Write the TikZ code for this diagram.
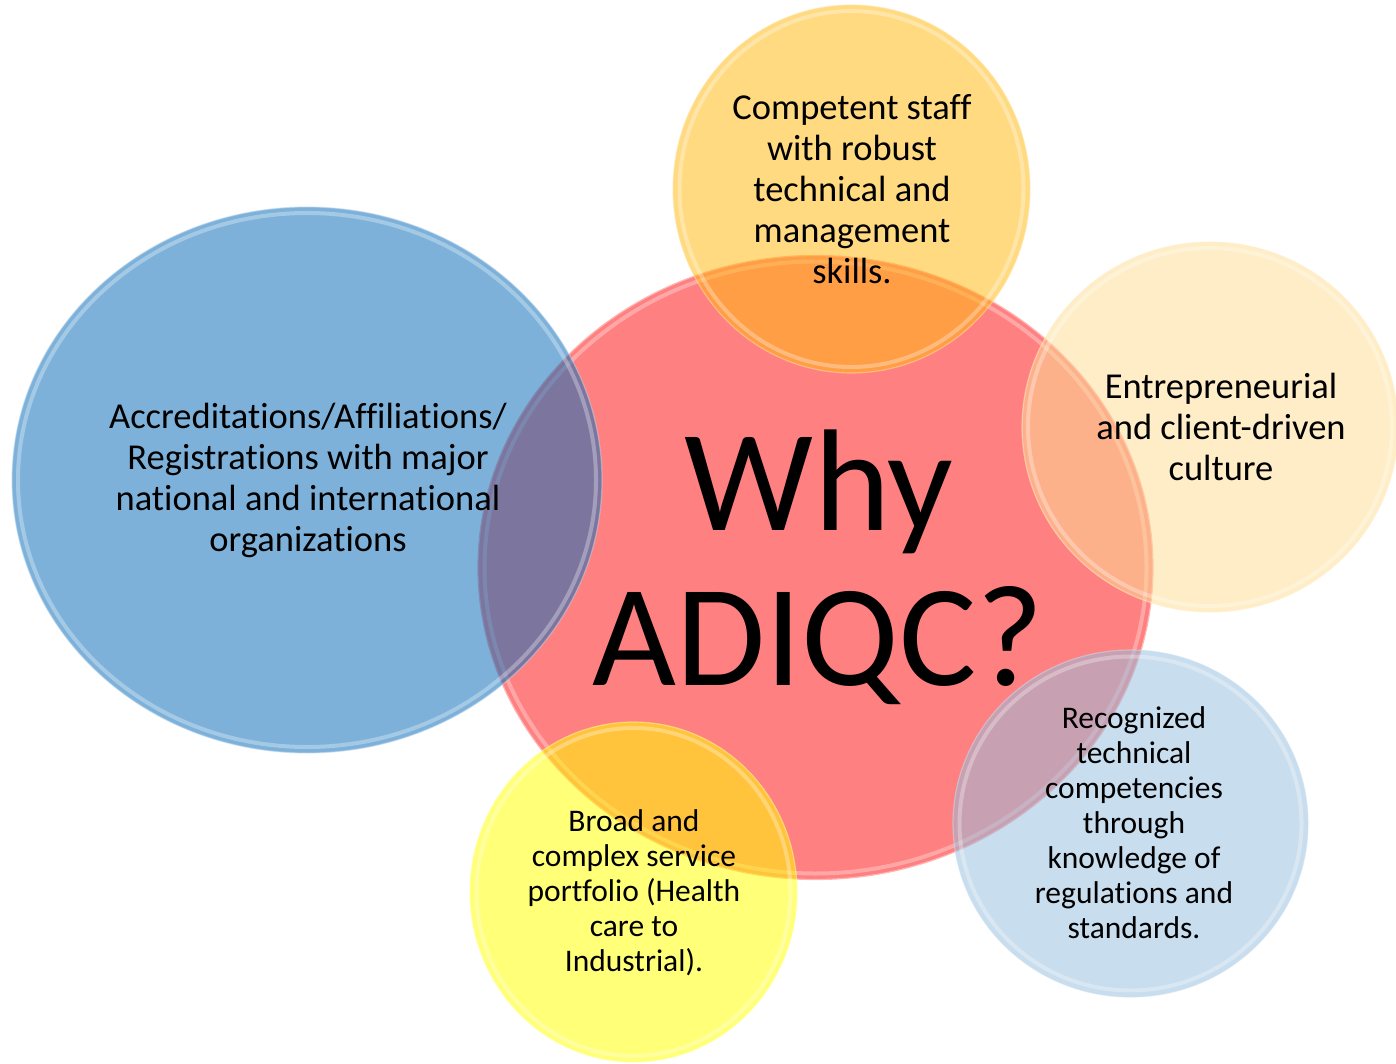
\documentclass[tikz,border=0pt]{standalone}
\usepackage{fontspec}
\setmainfont{Carlito}[RawFeature={-liga}]
\usetikzlibrary{shapes.geometric}
\definecolor{cred}{RGB}{255,128,128}
\definecolor{cblue}{RGB}{9,108,185}
\definecolor{cgold}{RGB}{255,185,17}
\definecolor{ccream}{RGB}{253,221,149}
\definecolor{cpale}{RGB}{151,190,222}
\definecolor{cyel}{RGB}{255,255,0}
\begin{document}
\begin{tikzpicture}[x=1pt,y=-1pt,
  bubble/.style={ellipse, inner sep=0pt, outer sep=0pt, fill opacity=0.53, draw opacity=0.5, line width=1.2pt},
  rim/.style={draw=white, draw opacity=0.3, line width=4pt},
  biglbl/.style={align=center, text=black, font=\fontsize{36.5}{41}\selectfont},
  smalllbl/.style={align=center, text=black, font=\fontsize{31.5}{35}\selectfont},
  titlelbl/.style={anchor=base, text=black, inner sep=0pt, font=\fontsize{145}{155}\selectfont}]
\useasboundingbox (0,0) rectangle (1396,1064);
\clip (0,0) rectangle (1396,1064);
% central circle
\node[ellipse, inner sep=0pt, fill=cred, draw=cred!60!white, line width=1.2pt,
  minimum width=675pt, minimum height=624pt] (why) at (815.5,567.5) {};
\draw[rim] (815.5,567.5) ellipse [x radius=331, y radius=306];
% satellites
\node[bubble, fill=cblue, draw=cblue!25!white, minimum width=590pt, minimum height=546pt] (acc) at (307,480) {};
\draw[rim] (307,480) ellipse [x radius=289, y radius=267];
\node[bubble, fill=cgold, draw=cgold!40!white, minimum width=357pt, minimum height=368pt] (staff) at (851.5,189) {};
\draw[rim] (851.5,189) ellipse [x radius=172, y radius=178];
\node[bubble, fill=ccream, draw=ccream!50!white, minimum width=376pt, minimum height=370pt] (entre) at (1210,427) {};
\draw[rim] (1210,427) ellipse [x radius=182, y radius=179];
\node[bubble, fill=cpale, draw=cpale!50!white, minimum width=355pt, minimum height=347pt] (recog) at (1130.5,823.5) {};
\draw[rim] (1130.5,823.5) ellipse [x radius=171, y radius=167];
\node[bubble, fill=cyel, draw=cyel!40!white, minimum width=327pt, minimum height=340pt] (broad) at (633.5,892) {};
\draw[rim] (633.5,892) ellipse [x radius=157, y radius=164];
% texts
\node[titlelbl] (whyt) at (819,530) {Why};
\node[titlelbl] (adiqct) at (818,685) {ADIQC?};
\node[biglbl] (acct) at (308,480) {Accreditations/Affiliations/\\Registrations with major\\national and international\\organizations};
\node[biglbl] (stafft) at (852,189) {Competent staff\\with robust\\technical and\\management\\skills.};
\node[biglbl] (entret) at (1221,427) {Entrepreneurial\\and client-driven\\culture};
\node[smalllbl] (recogt) at (1134,823) {Recognized\\technical\\competencies\\through\\knowledge of\\regulations and\\standards.};
\node[smalllbl] (broadt) at (634,893) {Broad and\\complex service\\portfolio (Health\\care to\\Industrial).};
\end{tikzpicture}
\end{document}
